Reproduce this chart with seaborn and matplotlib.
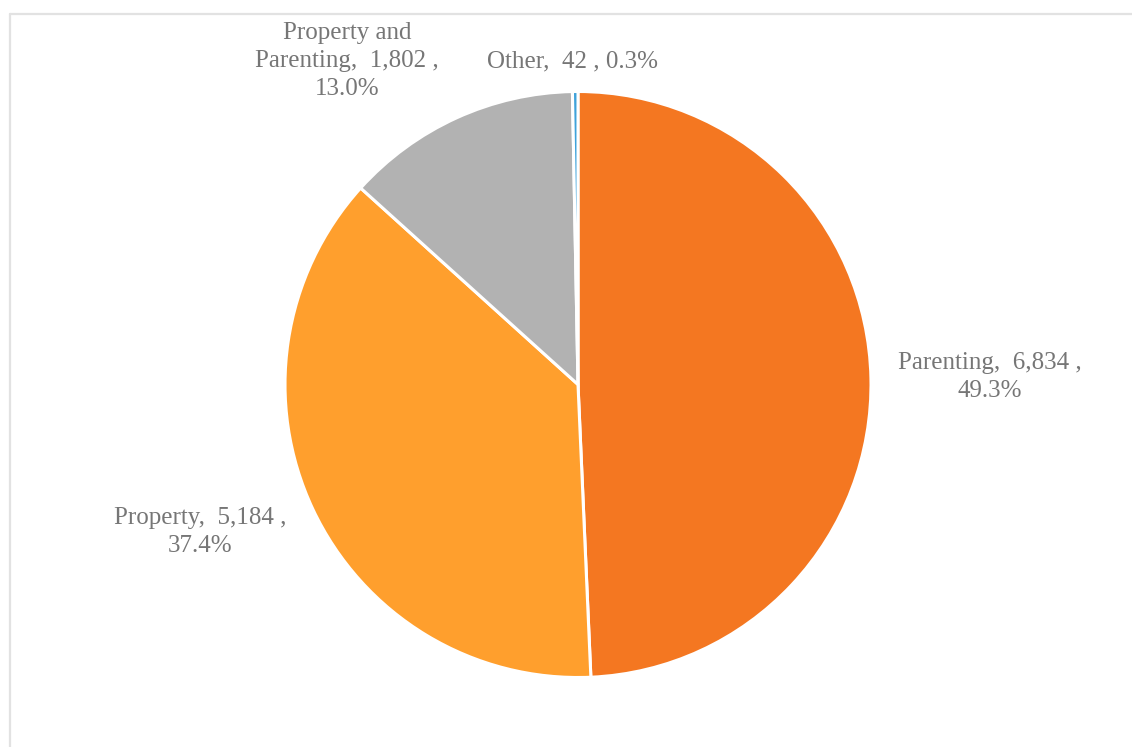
import matplotlib
matplotlib.use("Agg")
import matplotlib.pyplot as plt
from matplotlib.lines import Line2D
import seaborn as sns

# Case counts by category
categories = ["Parenting", "Property", "Property and Parenting", "Other"]
counts = [6834, 5184, 1802, 42]
colors = ["#F47721", "#FF9F2D", "#B2B2B2", "#3FA2DA"]

# Label text lines (line breaks where the category name wraps)
label_heads = ["Parenting", "Property", "Property and\nParenting", "Other"]
# Label anchor positions in units of the pie radius
label_pos = [(1.406, 0.026), (-1.29, -0.503), (-0.788, 1.104), (-0.02, 1.104)]
label_breaks = [True, True, True, False]

sns.set_theme(style="white")
plt.rcParams["font.family"] = ["Liberation Serif", "DejaVu Serif"]

W, H = 1132, 747
fig = plt.figure(figsize=(W / 100, H / 100), dpi=100)
fig.patch.set_facecolor("white")

cx, cy, r = 578, 384.5, 293
ax = fig.add_axes([(cx - r) / W, (H - cy - r) / H, 2 * r / W, 2 * r / H])
ax.set_xlim(-1, 1)
ax.set_ylim(-1, 1)
ax.axis("off")

ax.pie(counts, colors=colors, startangle=90, counterclock=False, radius=1,
       wedgeprops=dict(edgecolor="white", linewidth=2.2), frame=False)
ax.set_xlim(-1, 1)
ax.set_ylim(-1, 1)

total = sum(counts)
for head, n, (lx, ly), brk in zip(label_heads, counts, label_pos, label_breaks):
    pct = 100 * n / total
    sep = "\n" if brk else " "
    txt = f"{head},  {n:,} ,{sep}{pct:.1f}%"
    ax.text(lx, ly, txt, ha="center", va="center", fontsize=18,
            color="#767676", linespacing=1.38, clip_on=False)

# Light frame along the top and left edges
fig.add_artist(Line2D([10 / W, 10 / W], [0, 1 - 13.5 / H], transform=fig.transFigure,
                      color="#E2E2E2", lw=1.6))
fig.add_artist(Line2D([10 / W, 1], [1 - 13.5 / H, 1 - 13.5 / H], transform=fig.transFigure,
                      color="#E2E2E2", lw=1.6))

fig.savefig("out.png", dpi=100, facecolor="white")
